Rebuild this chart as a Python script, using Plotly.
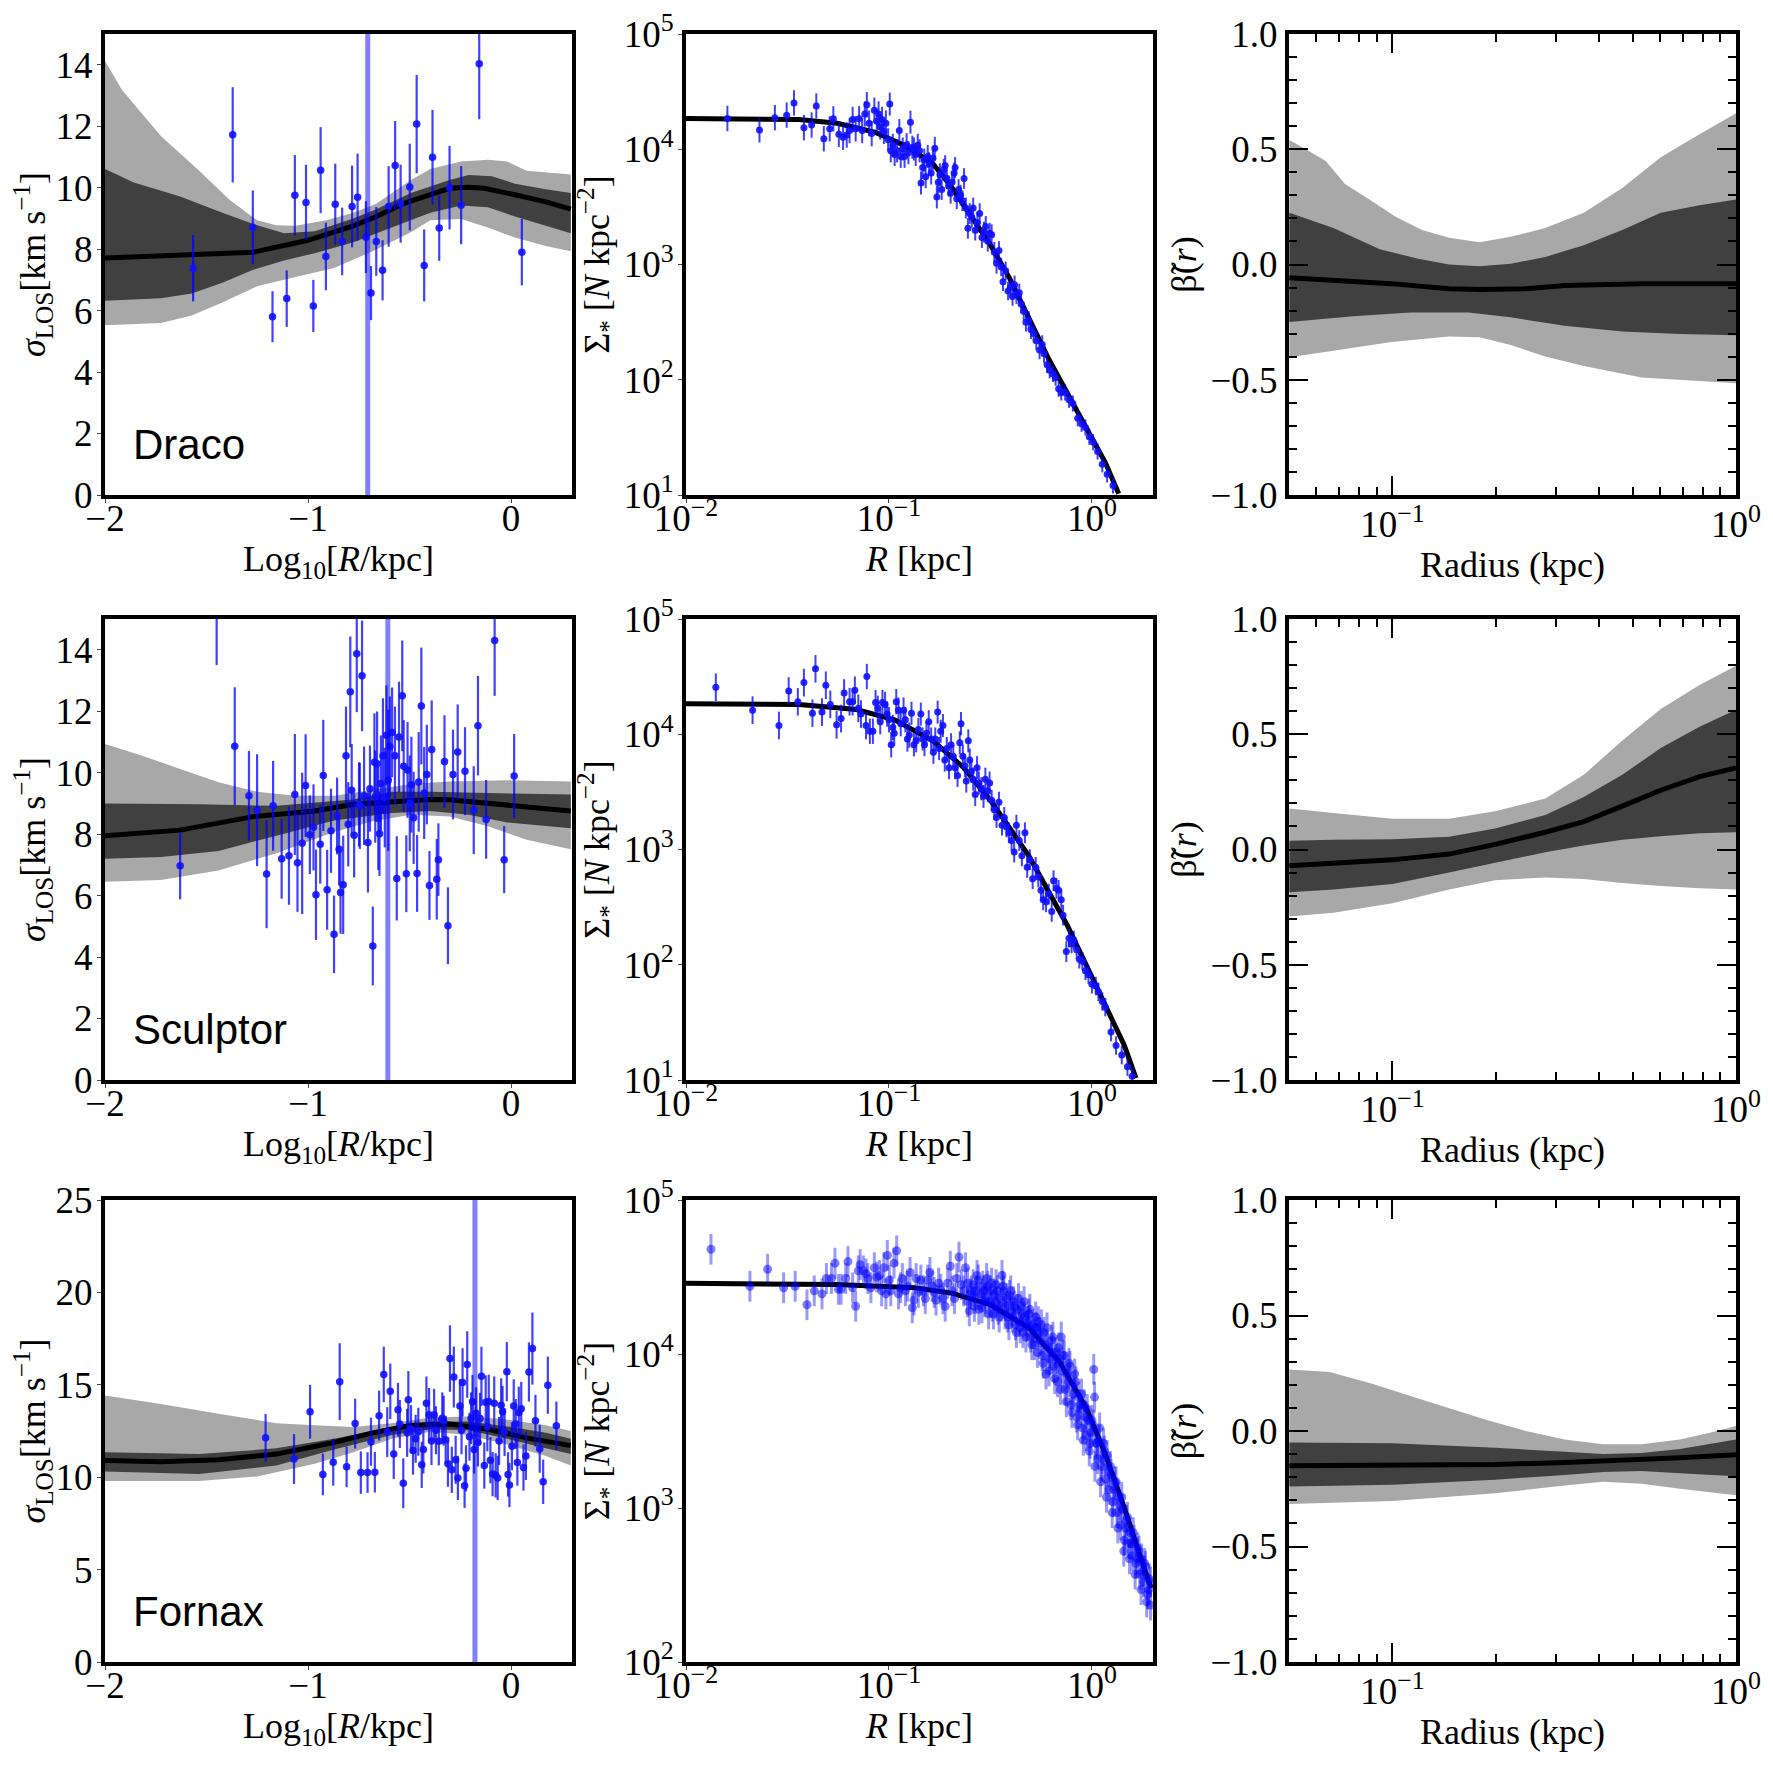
import numpy as np
import plotly.graph_objects as go

W, H = 1773, 1768
SERIF = "Liberation Serif"
SANS = "Liberation Sans"

galaxies = ["Draco", "Sculptor", "Fornax"]

# -------------------------
# Column 1: sigma_LOS vs log10 R
# -------------------------
draco_lgR = [-1.566, -1.371, -1.272, -1.175, -1.105, -1.065, -1.010, -0.974, -0.938, -0.912,
             -0.866, -0.832, -0.783, -0.756, -0.715, -0.690, -0.664, -0.633, -0.603, -0.571,
             -0.544, -0.499, -0.465, -0.428, -0.387, -0.354, -0.303, -0.246, -0.157, 0.053]
draco_sig = [7.38, 11.72, 8.71, 5.80, 6.39, 9.75, 9.52, 6.15, 10.57, 7.76,
             9.46, 8.25, 9.39, 9.69, 8.39, 6.57, 8.25, 7.31, 9.39, 10.72,
             9.48, 10.02, 12.07, 7.47, 10.99, 8.69, 10.00, 9.43, 14.03, 7.90]
draco_sig_err = [1.08, 1.55, 1.20, 0.83, 0.92, 1.31, 1.22, 0.85, 1.40, 1.10,
                 1.32, 1.10, 1.33, 1.42, 1.17, 0.88, 1.12, 0.98, 1.31, 1.45,
                 1.27, 1.41, 1.60, 1.17, 1.54, 1.07, 1.36, 1.27, 1.80, 1.08]

sculptor_lgR = [-1.630, -1.450, -1.361, -1.291, -1.251, -1.204, -1.172, -1.130, -1.094, -1.065,
                -1.052, -1.029, -1.012, -0.991, -0.973, -0.961, -0.940, -0.925, -0.906, -0.887,
                -0.872, -0.857, -0.847, -0.840, -0.827, -0.813, -0.802, -0.792, -0.785, -0.773,
                -0.760, -0.749, -0.734, -0.724, -0.705, -0.695, -0.681, -0.673, -0.660, -0.654,
                -0.648, -0.641, -0.631, -0.622, -0.614, -0.605, -0.597, -0.586, -0.572, -0.563,
                -0.552, -0.536, -0.529, -0.516, -0.510, -0.499, -0.491, -0.480, -0.463, -0.455,
                -0.442, -0.428, -0.415, -0.402, -0.391, -0.366, -0.358, -0.328, -0.311, -0.286,
                -0.263, -0.227, -0.184, -0.163, -0.123, -0.081, -0.034, 0.015, -0.745, -0.669]
sculptor_sig = [6.97, 15.2, 10.86, 9.25, 8.78, 6.70, 8.92, 7.20, 7.30, 9.29,
                7.07, 7.70, 9.58, 7.98, 8.22, 6.03, 7.67, 9.91, 6.19, 8.11,
                4.74, 8.59, 7.51, 6.10, 6.35, 10.55, 8.32, 12.63, 9.43, 7.96,
                13.87, 8.97, 13.15, 9.25, 7.73, 9.48, 4.36, 10.34, 10.29, 8.51,
                8.01, 9.65, 10.55, 9.19, 11.22, 9.75, 10.85, 11.31, 10.55, 6.56,
                11.16, 12.50, 10.21, 6.71, 10.09, 9.00, 9.61, 8.53, 6.72, 9.70,
                12.17, 9.34, 9.94, 6.33, 10.75, 6.53, 7.17, 10.36, 5.02, 9.94,
                10.67, 10.05, 8.78, 11.53, 8.48, 14.30, 7.17, 9.89, 8.92, 9.22]
sculptor_sig_err = [1.09, 1.70, 1.92, 1.46, 1.82, 1.76, 1.46, 1.30, 1.60, 1.97,
                    1.60, 2.30, 1.67, 1.28, 1.40, 1.47, 1.28, 1.81, 1.30, 1.37,
                    1.26, 1.25, 1.18, 1.34, 1.60, 1.60, 1.37, 1.80, 1.50, 1.37,
                    1.90, 1.37, 1.80, 1.60, 1.63, 1.40, 1.28, 1.59, 1.70, 1.68,
                    1.37, 1.56, 1.87, 1.62, 1.62, 2.30, 1.63, 1.46, 1.60, 1.37,
                    1.80, 1.80, 1.50, 1.25, 1.56, 1.56, 1.56, 1.50, 1.25, 1.62,
                    1.90, 1.50, 1.62, 1.12, 1.60, 1.31, 1.18, 1.51, 1.25, 1.46,
                    1.55, 1.43, 1.43, 1.62, 1.28, 1.80, 1.09, 1.37, 1.40, 1.50]

fornax_lgR = [-1.209, -1.069, -0.990, -0.927, -0.876, -0.844, -0.810, -0.768, -0.740, -0.707,
              -0.690, -0.671, -0.650, -0.627, -0.610, -0.595, -0.578, -0.557, -0.548, -0.531,
              -0.512, -0.506, -0.493, -0.483, -0.470, -0.457, -0.440, -0.432, -0.417, -0.404,
              -0.392, -0.379, -0.370, -0.356, -0.339, -0.332, -0.322, -0.311, -0.301, -0.292,
              -0.282, -0.273, -0.262, -0.252, -0.244, -0.239, -0.229, -0.222, -0.216, -0.205,
              -0.197, -0.190, -0.182, -0.172, -0.163, -0.153, -0.146, -0.132, -0.125, -0.117,
              -0.110, -0.102, -0.091, -0.083, -0.076, -0.066, -0.059, -0.049, -0.042, -0.032,
              -0.021, -0.015, -0.008, 0.004, 0.013, 0.023, 0.031, 0.038, 0.050, 0.061,
              0.073, 0.088, 0.105, 0.120, 0.141, 0.158, 0.181, 0.223]
fornax_sig = [12.13, 10.98, 13.54, 10.15, 10.81, 15.17, 10.56, 12.90, 10.25, 10.25,
              11.92, 10.27, 13.33, 15.56, 12.44, 14.65, 11.25, 13.65, 12.88, 9.67,
              12.40, 14.19, 12.60, 11.44, 12.08, 12.46, 10.67, 11.50, 14.00, 13.38,
              11.96, 13.38, 12.54, 11.94, 13.19, 13.06, 12.02, 10.73, 16.42, 10.40,
              15.42, 10.94, 9.96, 13.85, 12.54, 15.13, 9.54, 10.48, 16.10, 12.19,
              13.19, 14.08, 11.50, 13.46, 11.88, 13.17, 15.46, 10.63, 14.06, 12.75,
              14.10, 10.92, 10.17, 14.00, 10.10, 9.96, 11.96, 13.90, 13.54, 12.44,
              15.71, 10.15, 9.58, 11.67, 13.85, 12.88, 10.79, 13.50, 13.71, 10.52,
              11.15, 15.69, 16.96, 13.06, 11.54, 9.75, 14.98, 12.79]
fornax_sig_err = [1.29, 1.35, 1.46, 1.13, 1.27, 2.08, 1.10, 1.35, 1.15, 1.10,
                  1.30, 1.10, 1.35, 1.50, 1.35, 1.50, 1.35, 1.45, 1.30, 1.35,
                  1.30, 1.55, 1.30, 1.30, 1.30, 1.30, 1.25, 1.30, 1.45, 1.45,
                  1.30, 1.40, 1.30, 1.30, 1.40, 1.35, 1.30, 1.25, 1.80, 1.25,
                  1.65, 1.30, 1.20, 1.45, 1.30, 1.85, 1.20, 1.25, 1.80, 1.30,
                  1.40, 1.45, 1.30, 1.40, 1.30, 1.40, 1.60, 1.25, 1.45, 1.35,
                  1.45, 1.25, 1.20, 1.45, 1.20, 1.20, 1.30, 1.45, 1.40, 1.30,
                  1.60, 1.20, 1.20, 1.30, 1.45, 1.35, 1.25, 1.40, 1.45, 1.25,
                  1.30, 1.60, 1.95, 1.40, 1.30, 1.20, 1.55, 1.30]

# model bands for sigma_LOS (median, 68%, 95%)
draco_med_x = [-2.0, -1.270, -1.005, -0.777, -0.664, -0.531, -0.398, -0.303, -0.209, -0.133, 0.019, 0.171, 0.294]
draco_med_y = [7.71, 7.90, 8.28, 8.76, 9.06, 9.48, 9.77, 9.98, 10.01, 9.98, 9.77, 9.54, 9.30]
draco_d_up_x = [-2.0, -1.858, -1.630, -1.422, -1.270, -1.118, -0.967, -0.777, -0.664, -0.493, -0.303, -0.209, -0.095, 0.019, 0.171, 0.294]
draco_d_up_y = [10.61, 10.17, 9.71, 9.18, 8.82, 8.52, 8.58, 9.00, 9.30, 9.83, 10.25, 10.41, 10.37, 10.13, 9.95, 9.83]
draco_d_lo_x = [-2.0, -1.725, -1.573, -1.422, -1.270, -1.118, -0.967, -0.777, -0.588, -0.398, -0.246, -0.114, 0.019, 0.171, 0.294]
draco_d_lo_y = [6.32, 6.40, 6.56, 6.91, 7.33, 7.63, 7.87, 8.22, 8.70, 9.18, 9.42, 9.36, 9.06, 8.76, 8.52]
draco_l_up_x = [-2.0, -1.915, -1.725, -1.536, -1.384, -1.251, -1.156, -1.062, -0.910, -0.777, -0.664, -0.493, -0.398, -0.246, -0.114, -0.019, 0.076, 0.294]
draco_l_up_y = [14.12, 13.17, 11.68, 10.55, 9.59, 8.94, 8.78, 8.76, 8.94, 9.18, 9.48, 10.25, 10.61, 10.85, 10.91, 10.85, 10.55, 10.43]
draco_l_lo_x = [-2.0, -1.725, -1.573, -1.422, -1.251, -1.062, -0.872, -0.682, -0.493, -0.398, -0.246, -0.114, 0.019, 0.171, 0.294]
draco_l_lo_y = [5.52, 5.60, 5.84, 6.26, 6.79, 7.09, 7.39, 7.93, 8.55, 8.94, 8.98, 8.70, 8.38, 8.10, 7.93]

sculptor_med_x = [-2.0, -1.630, -1.270, -0.967, -0.777, -0.588, -0.398, -0.303, -0.114, 0.076, 0.294]
sculptor_med_y = [7.95, 8.13, 8.57, 8.75, 8.97, 9.07, 9.13, 9.12, 9.00, 8.85, 8.75]
sculptor_d_up_x = [-2.0, -1.536, -1.156, -0.777, -0.588, -0.398, -0.114, 0.076, 0.294]
sculptor_d_up_y = [9.00, 8.97, 8.92, 9.13, 9.38, 9.38, 9.34, 9.31, 9.29]
sculptor_d_lo_x = [-2.0, -1.725, -1.441, -1.156, -0.872, -0.588, -0.398, -0.209, -0.019, 0.294]
sculptor_d_lo_y = [7.20, 7.26, 7.45, 7.95, 8.44, 8.69, 8.75, 8.63, 8.38, 8.19]
sculptor_l_up_x = [-2.0, -1.820, -1.630, -1.441, -1.251, -1.062, -0.872, -0.682, -0.493, -0.303, -0.019, 0.294]
sculptor_l_up_y = [10.93, 10.56, 10.12, 9.69, 9.38, 9.25, 9.25, 9.44, 9.63, 9.71, 9.75, 9.71]
sculptor_l_lo_x = [-2.0, -1.725, -1.441, -1.156, -0.872, -0.682, -0.493, -0.303, -0.114, 0.076, 0.294]
sculptor_l_lo_y = [6.45, 6.51, 6.82, 7.38, 8.07, 8.42, 8.63, 8.57, 8.26, 7.82, 7.51]

fornax_med_x = [-2.0, -1.725, -1.441, -1.156, -0.872, -0.682, -0.493, -0.303, -0.114, 0.076, 0.294]
fornax_med_y = [10.90, 10.83, 10.94, 11.25, 11.88, 12.40, 12.81, 12.88, 12.60, 12.13, 11.71]
fornax_d_x = [-2.0, -1.536, -1.156, -0.872, -0.588, -0.398, -0.209, -0.019, 0.171, 0.294]
fornax_d_up_y = [11.35, 11.25, 11.56, 12.08, 12.71, 13.02, 13.02, 12.75, 12.40, 12.08]
fornax_d_lo_y = [10.31, 10.17, 10.63, 11.50, 12.29, 12.60, 12.54, 12.08, 11.56, 11.25]
fornax_l_up_x = [-2.0, -1.725, -1.441, -1.156, -0.967, -0.777, -0.588, -0.398, -0.209, -0.019, 0.171, 0.294]
fornax_l_up_y = [14.42, 13.96, 13.44, 12.92, 12.81, 12.71, 12.92, 13.23, 13.29, 13.12, 12.81, 12.50]
fornax_l_lo_x = [-2.0, -1.536, -1.251, -0.967, -0.777, -0.588, -0.398, -0.209, -0.019, 0.171, 0.294]
fornax_l_lo_y = [9.79, 9.79, 10.04, 10.73, 11.35, 12.08, 12.46, 12.29, 11.77, 11.15, 10.63]

# -------------------------
# Column 2: surface density (log10 R [kpc], log10 Sigma, error in dex)
# -------------------------
draco_sb_lgR = [-1.796, -1.638, -1.562, -1.504, -1.468, -1.419, -1.381, -1.358, -1.321, -1.292,
                -1.274, -1.247, -1.226, -1.208, -1.194, -1.179, -1.164, -1.147, -1.132, -1.119,
                -1.109, -1.098, -1.085, -1.072, -1.060, -1.051, -1.043, -1.034, -1.025, -1.015,
                -1.004, -0.996, -0.991, -0.981, -0.972, -0.960, -0.949, -0.942, -0.932, -0.923,
                -0.913, -0.904, -0.894, -0.885, -0.877, -0.868, -0.858, -0.849, -0.842, -0.834,
                -0.826, -0.819, -0.809, -0.802, -0.792, -0.783, -0.774, -0.764, -0.757, -0.749,
                -0.740, -0.730, -0.723, -0.715, -0.706, -0.696, -0.689, -0.679, -0.674, -0.666,
                -0.657, -0.647, -0.638, -0.630, -0.621, -0.611, -0.602, -0.592, -0.585, -0.575,
                -0.564, -0.553, -0.542, -0.532, -0.523, -0.513, -0.504, -0.494, -0.481, -0.470,
                -0.458, -0.447, -0.438, -0.425, -0.413, -0.402, -0.391, -0.381, -0.372, -0.358,
                -0.349, -0.336, -0.325, -0.311, -0.300, -0.287, -0.274, -0.258, -0.245, -0.236,
                -0.221, -0.208, -0.192, -0.179, -0.164, -0.151, -0.132, -0.113, -0.094, -0.070,
                -0.051, -0.032, -0.013, 0.006, 0.028, 0.051, 0.075, 0.104]
draco_sb_lgS = [4.267, 4.168, 4.274, 4.296, 4.402, 4.187, 4.210, 4.376, 4.091, 4.178,
                4.264, 4.130, 4.104, 4.123, 4.162, 4.258, 4.178, 4.264, 4.162, 4.306,
                4.386, 4.226, 4.136, 4.338, 4.242, 4.306, 4.194, 4.258, 4.155, 4.226,
                4.082, 4.392, 3.986, 4.034, 3.954, 3.986, 4.162, 3.938, 4.002, 3.938,
                4.040, 3.970, 4.235, 4.018, 4.002, 3.954, 4.034, 3.986, 3.707, 3.842,
                3.906, 3.762, 3.938, 3.874, 3.794, 3.922, 4.008, 3.586, 3.714, 3.778,
                3.650, 3.826, 3.858, 3.746, 3.682, 3.618, 3.714, 3.794, 3.842, 3.570,
                3.650, 3.602, 3.554, 3.746, 3.490, 3.314, 3.442, 3.410, 3.490, 3.298,
                3.362, 3.442, 3.234, 3.282, 3.330, 3.202, 3.272, 3.259, 3.106, 3.010,
                3.122, 2.978, 2.850, 2.946, 2.770, 2.802, 2.722, 2.824, 2.738, 2.754,
                2.658, 2.594, 2.498, 2.514, 2.434, 2.402, 2.338, 2.258, 2.306, 2.226,
                2.130, 2.082, 2.050, 2.018, 1.922, 1.890, 1.890, 1.826, 1.794, 1.666,
                1.618, 1.586, 1.506, 1.458, 1.378, 1.266, 1.179, 1.083]
draco_sb_err = [0.11, 0.11, 0.11, 0.11, 0.11, 0.11, 0.11, 0.11, 0.11, 0.11,
                0.11, 0.11, 0.11, 0.11, 0.11, 0.11, 0.11, 0.11, 0.11, 0.11,
                0.11, 0.11, 0.11, 0.11, 0.11, 0.11, 0.11, 0.11, 0.11, 0.11,
                0.10, 0.10, 0.10, 0.10, 0.10, 0.10, 0.10, 0.10, 0.10, 0.10,
                0.10, 0.10, 0.10, 0.10, 0.10, 0.10, 0.10, 0.10, 0.10, 0.10,
                0.10, 0.10, 0.10, 0.10, 0.10, 0.10, 0.10, 0.10, 0.10, 0.10,
                0.09, 0.09, 0.09, 0.09, 0.09, 0.09, 0.09, 0.09, 0.09, 0.09,
                0.09, 0.09, 0.09, 0.09, 0.09, 0.09, 0.09, 0.09, 0.09, 0.09,
                0.09, 0.09, 0.09, 0.09, 0.09, 0.09, 0.09, 0.09, 0.09, 0.09,
                0.08, 0.08, 0.08, 0.08, 0.08, 0.08, 0.08, 0.08, 0.08, 0.08,
                0.08, 0.08, 0.08, 0.08, 0.08, 0.08, 0.08, 0.08, 0.08, 0.08,
                0.07, 0.07, 0.07, 0.07, 0.07, 0.07, 0.07, 0.07, 0.07, 0.07,
                0.07, 0.07, 0.07, 0.07, 0.07, 0.07, 0.07, 0.07]

sculptor_sb_lgR = [-1.853, -1.672, -1.542, -1.494, -1.449, -1.419, -1.377, -1.362, -1.330, -1.311,
                   -1.289, -1.258, -1.236, -1.221, -1.194, -1.179, -1.168, -1.151, -1.138, -1.113,
                   -1.109, -1.094, -1.079, -1.066, -1.055, -1.043, -1.032, -1.019, -1.009, -1.000,
                   -0.989, -0.981, -0.974, -0.964, -0.953, -0.942, -0.928, -0.919, -0.909, -0.900,
                   -0.889, -0.877, -0.866, -0.855, -0.843, -0.834, -0.825, -0.815, -0.804, -0.792,
                   -0.781, -0.772, -0.760, -0.753, -0.745, -0.734, -0.725, -0.715, -0.704, -0.694,
                   -0.683, -0.674, -0.662, -0.651, -0.645, -0.636, -0.626, -0.619, -0.609, -0.602,
                   -0.594, -0.585, -0.575, -0.566, -0.557, -0.545, -0.534, -0.525, -0.513, -0.504,
                   -0.494, -0.481, -0.470, -0.458, -0.443, -0.432, -0.421, -0.409, -0.396, -0.383,
                   -0.372, -0.358, -0.345, -0.330, -0.319, -0.306, -0.292, -0.277, -0.264, -0.251,
                   -0.240, -0.226, -0.213, -0.198, -0.189, -0.175, -0.164, -0.151, -0.142, -0.126,
                   -0.113, -0.100, -0.089, -0.075, -0.062, -0.047, -0.032, -0.017, 0.000, 0.019,
                   0.032, 0.051, 0.066, 0.094, 0.119, 0.147, 0.175, 0.198]
sculptor_sb_lgS = [4.408, 4.209, 4.076, 4.375, 4.282, 4.448, 4.182, 4.568, 4.192, 4.425,
                   4.259, 4.082, 4.136, 4.358, 4.282, 4.282, 4.382, 4.225, 4.175, 4.076,
                   4.501, 4.026, 4.026, 4.275, 4.225, 4.109, 4.275, 4.259, 4.175, 4.126,
                   3.909, 4.059, 4.009, 4.282, 4.209, 4.092, 4.209, 4.126, 3.959, 3.993,
                   4.182, 3.909, 3.943, 4.042, 4.175, 3.959, 3.909, 4.009, 4.109, 3.959,
                   3.843, 3.959, 4.192, 3.876, 4.026, 4.076, 3.776, 3.876, 3.710, 3.909,
                   3.810, 3.710, 3.643, 3.926, 4.092, 3.810, 3.727, 3.594, 3.943, 3.776,
                   3.677, 3.610, 3.477, 3.710, 3.577, 3.527, 3.461, 3.610, 3.510, 3.577,
                   3.427, 3.344, 3.278, 3.411, 3.211, 3.278, 3.195, 3.145, 3.078, 2.978,
                   3.211, 3.078, 2.945, 3.145, 2.845, 2.912, 2.746, 2.845, 2.762, 2.646,
                   2.563, 2.546, 2.613, 2.463, 2.729, 2.663, 2.646, 2.563, 2.430, 2.114,
                   2.230, 2.180, 2.214, 2.131, 2.047, 2.031, 1.948, 1.914, 1.831, 1.815,
                   1.765, 1.682, 1.632, 1.416, 1.299, 1.216, 1.116, 1.033]
sculptor_sb_err = [0.12, 0.12, 0.12, 0.12, 0.12, 0.12, 0.12, 0.12, 0.12, 0.12,
                   0.12, 0.12, 0.12, 0.12, 0.12, 0.12, 0.12, 0.12, 0.12, 0.12,
                   0.11, 0.11, 0.11, 0.11, 0.11, 0.11, 0.11, 0.11, 0.11, 0.11,
                   0.11, 0.11, 0.11, 0.11, 0.11, 0.11, 0.11, 0.11, 0.11, 0.11,
                   0.10, 0.10, 0.10, 0.10, 0.10, 0.10, 0.10, 0.10, 0.10, 0.10,
                   0.10, 0.10, 0.10, 0.10, 0.10, 0.10, 0.10, 0.10, 0.10, 0.10,
                   0.10, 0.10, 0.10, 0.10, 0.10, 0.10, 0.10, 0.10, 0.10, 0.10,
                   0.10, 0.10, 0.10, 0.10, 0.10, 0.10, 0.10, 0.10, 0.10, 0.10,
                   0.09, 0.09, 0.09, 0.09, 0.09, 0.09, 0.09, 0.09, 0.09, 0.09,
                   0.09, 0.09, 0.09, 0.09, 0.09, 0.09, 0.09, 0.09, 0.09, 0.09,
                   0.09, 0.09, 0.09, 0.09, 0.09, 0.09, 0.09, 0.09, 0.09, 0.09,
                   0.08, 0.08, 0.08, 0.08, 0.08, 0.08, 0.08, 0.08, 0.08, 0.08,
                   0.08, 0.08, 0.08, 0.08, 0.08, 0.08, 0.08, 0.08]

fornax_sb_lgR = [-1.877, -1.685, -1.598, -1.519, -1.462, -1.404, -1.368, -1.330, -1.308, -1.283,
                 -1.266, -1.249, -1.236, -1.213, -1.202, -1.179, -1.164, -1.151, -1.142, -1.126,
                 -1.113, -1.104, -1.089, -1.072, -1.060, -1.047, -1.036, -1.025, -1.015, -1.008,
                 -0.998, -0.991, -0.975, -0.962, -0.953, -0.943, -0.934, -0.919, -0.909, -0.896,
                 -0.885, -0.877, -0.866, -0.855, -0.843, -0.830, -0.821, -0.809, -0.798, -0.787,
                 -0.777, -0.768, -0.755, -0.745, -0.734, -0.723, -0.711, -0.698, -0.689, -0.677,
                 -0.666, -0.655, -0.643, -0.632, -0.623, -0.613, -0.604, -0.594, -0.585, -0.575,
                 -0.566, -0.557, -0.547, -0.538, -0.528, -0.519, -0.509, -0.500, -0.491, -0.481,
                 -0.472, -0.462, -0.453, -0.443, -0.434, -0.425, -0.415, -0.406, -0.396, -0.387,
                 -0.377, -0.368, -0.358, -0.349, -0.340, -0.330, -0.321, -0.311, -0.302, -0.292,
                 -0.283, -0.274, -0.264, -0.255, -0.245, -0.236, -0.226, -0.217, -0.208, -0.198,
                 -0.189, -0.179, -0.170, -0.160, -0.151, -0.142, -0.132, -0.123, -0.113, -0.104,
                 -0.094, -0.085, -0.075, -0.066, -0.057, -0.047, -0.038, -0.028, -0.019, -0.009,
                 0.000, 0.009, 0.013, 0.019, 0.028, 0.038, 0.047, 0.057, 0.066, 0.075,
                 0.085, 0.094, 0.104, 0.113, 0.123, 0.132, 0.142, 0.151, 0.160, 0.170,
                 0.179, 0.189, 0.198, 0.208, 0.217, 0.226, 0.236, 0.245, 0.255, 0.264,
                 0.274, 0.283, 0.289,
                 -0.613, -0.598, -0.579, -0.570, -0.560, -0.542, -0.532, -0.523, -0.513, -0.504,
                 -0.494, -0.485, -0.475, -0.466, -0.457, -0.447, -0.438, -0.428, -0.419, -0.409,
                 -0.400, -0.391, -0.381, -0.372, -0.362, -0.353, -0.343, -0.334, -0.325, -0.315,
                 -0.306, -0.296, -0.287, -0.277, -0.268, -0.258, -0.249, -0.240, -0.230, -0.221,
                 -0.211, -0.202, -0.192, -0.183, -0.174, -0.164, -0.155, -0.145, -0.136, -0.126,
                 -0.117, -0.108, -0.098, -0.089, -0.079, -0.070, -0.060, -0.051, -0.042, -0.032,
                 -0.023, -0.013, -0.004, 0.006, 0.015, 0.025, 0.034, 0.043, 0.053, 0.062,
                 0.072, 0.081, 0.091, 0.100, 0.109, 0.119, 0.128, 0.138, 0.147, 0.157,
                 0.166, 0.175, 0.185, 0.194, 0.204, 0.213, 0.223, 0.232, 0.242, 0.251,
                 0.260, 0.270, 0.279, 0.289]
fornax_sb_lgS = [4.68, 4.44, 4.55, 4.43, 4.44, 4.32, 4.41, 4.39, 4.49, 4.49,
                 4.59, 4.42, 4.42, 4.49, 4.60, 4.43, 4.31, 4.54, 4.58, 4.54,
                 4.52, 4.49, 4.43, 4.56, 4.50, 4.51, 4.41, 4.56, 4.39, 4.64,
                 4.48, 4.41, 4.59, 4.67, 4.39, 4.43, 4.49, 4.41, 4.44, 4.53,
                 4.30, 4.35, 4.49, 4.40, 4.48, 4.41, 4.36, 4.48, 4.53, 4.44,
                 4.40, 4.35, 4.46, 4.42, 4.36, 4.31, 4.46, 4.57, 4.41, 4.36,
                 4.49, 4.63, 4.45, 4.41, 4.56, 4.34, 4.28, 4.41, 4.45, 4.36,
                 4.51, 4.29, 4.39, 4.44, 4.34, 4.49, 4.26, 4.41, 4.31, 4.39,
                 4.45, 4.29, 4.36, 4.51, 4.41, 4.31, 4.24, 4.38, 4.28, 4.34,
                 4.19, 4.29, 4.21, 4.31, 4.14, 4.24, 4.18, 4.26, 4.11, 4.19,
                 4.06, 4.17, 4.21, 4.09, 3.99, 4.14, 3.87, 4.04, 3.97, 4.09,
                 3.92, 4.01, 3.82, 3.94, 4.11, 3.99, 3.77, 3.87, 3.94, 3.67,
                 3.79, 3.87, 3.59, 3.72, 3.64, 3.52, 3.67, 3.47, 3.57, 3.42,
                 3.57, 3.90, 3.72, 3.42, 3.32, 3.52, 3.27, 3.42, 3.19, 3.34,
                 3.12, 3.22, 3.04, 3.17, 2.97, 3.07, 2.89, 2.99, 2.79, 2.92,
                 2.77, 2.84, 2.69, 2.79, 2.64, 2.74, 2.57, 2.67, 2.52, 2.62,
                 2.44, 2.54, 2.37,
                 4.46, 4.39, 4.31, 4.41, 4.48, 4.30, 4.41, 4.36, 4.44, 4.34,
                 4.46, 4.26, 4.34, 4.41, 4.24, 4.31, 4.44, 4.26, 4.36, 4.19,
                 4.41, 4.24, 4.31, 4.14, 4.36, 4.17, 4.26, 4.34, 4.11, 4.21,
                 4.29, 4.06, 4.17, 4.24, 4.01, 4.14, 4.19, 3.94, 4.06, 4.17,
                 3.89, 4.01, 4.11, 3.84, 3.97, 4.04, 3.77, 3.89, 3.99, 3.69,
                 3.82, 3.92, 3.62, 3.74, 3.82, 3.54, 3.67, 3.74, 3.44, 3.59,
                 3.64, 3.37, 3.49, 3.54, 3.27, 3.42, 3.44, 3.17, 3.32, 3.37,
                 3.07, 3.24, 3.27, 2.97, 3.12, 3.17, 2.87, 3.02, 3.07, 2.72,
                 2.87, 2.94, 2.67, 2.77, 2.84, 2.57, 2.67, 2.72, 2.47, 2.59,
                 2.64, 2.39, 2.47, 2.52]
fornax_sb_err = 0.10  # typical bar half-length (dex); cloud too dense to read per point

# black model curves in column 2 (log10 R, log10 Sigma)
draco_fit_lgR = [-2.0, -1.443, -1.255, -1.066, -0.915, -0.783, -0.689, -0.594, -0.500, -0.406, -0.311, -0.217, -0.123, -0.028, 0.066, 0.132]
draco_fit_lgS = [4.267, 4.258, 4.226, 4.146, 4.027, 3.874, 3.666, 3.426, 3.170, 2.882, 2.546, 2.194, 1.890, 1.590, 1.282, 1.010]
sculptor_fit_lgR = [-2.0, -1.443, -1.160, -0.972, -0.783, -0.632, -0.500, -0.406, -0.311, -0.217, -0.123, -0.028, 0.066, 0.160, 0.217]
sculptor_fit_lgS = [4.265, 4.258, 4.215, 4.125, 3.943, 3.710, 3.427, 3.195, 2.945, 2.646, 2.347, 1.998, 1.648, 1.299, 1.017]
fornax_fit_lgR = [-2.0, -1.255, -0.877, -0.689, -0.500, -0.311, -0.160, -0.028, 0.066, 0.160, 0.255, 0.292]
fornax_fit_lgS = [4.459, 4.451, 4.431, 4.395, 4.320, 4.170, 3.950, 3.650, 3.350, 3.000, 2.620, 2.480]

# -------------------------
# Column 3: anisotropy beta(r)  (log10 r [kpc])
# -------------------------
draco_b_med_x = [-1.300, -1.172, -1.003, -0.835, -0.746, -0.611, -0.499, -0.275, 0.0]
draco_b_med_y = [-0.058, -0.070, -0.083, -0.105, -0.108, -0.105, -0.091, -0.083, -0.083]
draco_b_d_up_x = [-1.300, -1.172, -1.037, -0.925, -0.835, -0.746, -0.656, -0.555, -0.443, -0.331, -0.219, -0.106, 0.0]
draco_b_d_up_y = [0.224, 0.158, 0.066, 0.025, 0.0, -0.008, 0.003, 0.033, 0.083, 0.150, 0.224, 0.257, 0.282]
draco_b_d_lo_x = [-1.300, -1.115, -0.947, -0.779, -0.656, -0.499, -0.331, -0.163, 0.0]
draco_b_d_lo_y = [-0.249, -0.224, -0.208, -0.208, -0.229, -0.266, -0.291, -0.302, -0.307]
draco_b_l_up_x = [-1.300, -1.250, -1.194, -1.138, -1.059, -0.992, -0.914, -0.835, -0.746, -0.656, -0.555, -0.443, -0.331, -0.219, -0.106, 0.0]
draco_b_l_up_y = [0.540, 0.498, 0.449, 0.349, 0.274, 0.208, 0.150, 0.116, 0.096, 0.120, 0.158, 0.224, 0.332, 0.465, 0.565, 0.656]
draco_b_l_lo_x = [-1.300, -1.172, -1.003, -0.835, -0.746, -0.656, -0.555, -0.443, -0.275, 0.0]
draco_b_l_lo_y = [-0.402, -0.374, -0.336, -0.312, -0.316, -0.349, -0.399, -0.440, -0.490, -0.515]

sculptor_b_x = [-1.300, -1.172, -1.0, -0.835, -0.701, -0.555, -0.443, -0.331, -0.219, -0.106, 0.0]
sculptor_b_med_y = [-0.071, -0.061, -0.045, -0.020, 0.022, 0.075, 0.121, 0.188, 0.257, 0.316, 0.354]
sculptor_b_d_up_y = [0.038, 0.042, 0.045, 0.055, 0.091, 0.150, 0.228, 0.324, 0.440, 0.532, 0.606]
sculptor_b_d_lo_y = [-0.186, -0.174, -0.150, -0.100, -0.058, -0.012, 0.017, 0.042, 0.058, 0.070, 0.075]
sculptor_b_l_up_y = [0.178, 0.158, 0.133, 0.133, 0.166, 0.221, 0.324, 0.473, 0.610, 0.714, 0.797]
sculptor_b_l_lo_y = [-0.291, -0.274, -0.233, -0.174, -0.133, -0.121, -0.128, -0.145, -0.158, -0.168, -0.174]

fornax_b_med_x = [-1.300, -1.0, -0.701, -0.499, -0.331, -0.163, 0.0]
fornax_b_med_y = [-0.150, -0.150, -0.145, -0.136, -0.128, -0.116, -0.103]
fornax_b_d_x = [-1.300, -1.0, -0.701, -0.499, -0.387, -0.275, -0.163, 0.0]
fornax_b_d_up_y = [-0.050, -0.053, -0.073, -0.090, -0.100, -0.095, -0.078, -0.037]
fornax_b_d_lo_y = [-0.240, -0.233, -0.211, -0.190, -0.178, -0.173, -0.183, -0.196]
fornax_b_l_up_x = [-1.300, -1.183, -1.059, -0.902, -0.723, -0.611, -0.499, -0.387, -0.275, -0.163, -0.073, 0.0]
fornax_b_l_up_y = [0.266, 0.255, 0.205, 0.130, 0.047, 0.0, -0.037, -0.057, -0.057, -0.037, -0.007, 0.022]
fornax_b_l_lo_y = [-0.316, -0.303, -0.270, -0.236, -0.220, -0.228, -0.250, -0.278]

# half-light radii (vertical lines): projected (cols 1-2) and 3D (col 3), log10 kpc
rhalf_proj_lg = [-0.706, -0.607, -0.178]
rhalf_3d_lg = [-0.650, -0.547, -0.145]

sig_ymax = [15, 15, 25]
sig_tickvals = [[0, 2, 4, 6, 8, 10, 12, 14], [0, 2, 4, 6, 8, 10, 12, 14], [0, 5, 10, 15, 20, 25]]
sb_ymin_exp = [1, 1, 2]

# -------------------------
# layout helpers (pixel boxes of the nine panels)
# -------------------------
col_px = [(97, 564), (678, 1145), (1281, 1728)]
row_px = [(26, 487), (611, 1072), (1192, 1654)]
ML, MR = col_px[0][0], W - col_px[2][1]
MT, MB = row_px[0][0], H - row_px[2][1]
PW, PH = W - ML - MR, H - MT - MB

LIGHT = "#a8a8a8"
DARK = "#404040"
BLUE = "rgba(15,15,255,0.9)"
BLUE_BAR = "rgba(0,0,255,0.75)"
VLINE = "rgba(0,0,255,0.5)"

fig = go.Figure()


def names(r, c):
    i = r * 3 + c + 1
    s = "" if i == 1 else str(i)
    return "x" + s, "y" + s, "xaxis" + s, "yaxis" + s


def xdom(c):
    return [(col_px[c][0] - ML) / PW, (col_px[c][1] - ML) / PW]


def ydom(r):
    return [(H - MB - row_px[r][1]) / PH, (H - MB - row_px[r][0]) / PH]


def band(xu, yu, xl, yl, color, xa, ya, logx=False):
    xs = list(xu) + list(xl)[::-1]
    ys = list(yu) + list(yl)[::-1]
    if logx:
        xs = [10 ** v for v in xs]
    fig.add_trace(go.Scatter(x=xs, y=ys, fill="toself", fillcolor=color, mode="none",
                             xaxis=xa, yaxis=ya, hoverinfo="skip", showlegend=False))


def line(x, y, xa, ya, logx=False, width=5):
    xs = [10 ** v for v in x] if logx else x
    fig.add_trace(go.Scatter(x=xs, y=y, mode="lines", line=dict(color="black", width=width),
                             xaxis=xa, yaxis=ya, showlegend=False))


tickfont = dict(family=SERIF, size=37, color="black")
titlefont = dict(family=SERIF, size=36, color="black")
frame = dict(showline=True, linecolor="black", linewidth=4, mirror=True, showgrid=False,
             zeroline=False, tickfont=tickfont, automargin=False, ticklabeloverflow="allow")
XLAB = dict(ticklabelstandoff=-16)
YLAB = dict(ticklabelstandoff=-3)

sig_data = [
    (draco_lgR, draco_sig, draco_sig_err,
     (draco_l_up_x, draco_l_up_y, draco_l_lo_x, draco_l_lo_y),
     (draco_d_up_x, draco_d_up_y, draco_d_lo_x, draco_d_lo_y),
     (draco_med_x, draco_med_y)),
    (sculptor_lgR, sculptor_sig, sculptor_sig_err,
     (sculptor_l_up_x, sculptor_l_up_y, sculptor_l_lo_x, sculptor_l_lo_y),
     (sculptor_d_up_x, sculptor_d_up_y, sculptor_d_lo_x, sculptor_d_lo_y),
     (sculptor_med_x, sculptor_med_y)),
    (fornax_lgR, fornax_sig, fornax_sig_err,
     (fornax_l_up_x, fornax_l_up_y, fornax_l_lo_x, fornax_l_lo_y),
     (fornax_d_x, fornax_d_up_y, fornax_d_x, fornax_d_lo_y),
     (fornax_med_x, fornax_med_y)),
]
sb_data = [
    (draco_sb_lgR, draco_sb_lgS, draco_sb_err, draco_fit_lgR, draco_fit_lgS),
    (sculptor_sb_lgR, sculptor_sb_lgS, sculptor_sb_err, sculptor_fit_lgR, sculptor_fit_lgS),
    (fornax_sb_lgR, fornax_sb_lgS, fornax_sb_err, fornax_fit_lgR, fornax_fit_lgS),
]
beta_data = [
    ((draco_b_l_up_x, draco_b_l_up_y, draco_b_l_lo_x, draco_b_l_lo_y),
     (draco_b_d_up_x, draco_b_d_up_y, draco_b_d_lo_x, draco_b_d_lo_y),
     (draco_b_med_x, draco_b_med_y)),
    ((sculptor_b_x, sculptor_b_l_up_y, sculptor_b_x, sculptor_b_l_lo_y),
     (sculptor_b_x, sculptor_b_d_up_y, sculptor_b_x, sculptor_b_d_lo_y),
     (sculptor_b_x, sculptor_b_med_y)),
    ((fornax_b_l_up_x, fornax_b_l_up_y, fornax_b_d_x, fornax_b_l_lo_y),
     (fornax_b_d_x, fornax_b_d_up_y, fornax_b_d_x, fornax_b_d_lo_y),
     (fornax_b_med_x, fornax_b_med_y)),
]

layout = {}
shapes = []
annotations = []

for r in range(3):
    # ---- column 1: velocity dispersion
    xa, ya, xk, yk = names(r, 0)
    lg, sg, er, light, dark, med = sig_data[r]
    band(*light, LIGHT, xa, ya)
    band(*dark, DARK, xa, ya)
    line(med[0], med[1], xa, ya)
    fig.add_trace(go.Scatter(x=lg, y=sg, mode="markers", xaxis=xa, yaxis=ya, showlegend=False,
                             marker=dict(color=BLUE, size=7.5),
                             error_y=dict(type="data", array=er, color=BLUE_BAR, thickness=2.2, width=0)))
    layout[xk] = dict(frame, **XLAB, domain=xdom(0), anchor=ya,
                      range=[-2, 0.3], tickvals=[-2, -1, 0], ticktext=["\u22122", "\u22121", "0"],
                      ticks="outside", ticklen=4, tickwidth=1,
                      title=dict(text="Log<sub>10</sub>[<i>R</i>/kpc]", font=titlefont, standoff=0))
    layout[yk] = dict(frame, **YLAB, domain=ydom(r), anchor=xa, range=[0, sig_ymax[r]],
                      tickvals=sig_tickvals[r], ticks="outside", ticklen=4, tickwidth=1,
                      title=dict(text="<i>\u03c3</i><sub>LOS</sub>[km s<sup>\u22121</sup>]",
                                 font=titlefont, standoff=4))
    shapes.append(dict(type="line", xref=xa, yref=ya + " domain", x0=rhalf_proj_lg[r],
                       x1=rhalf_proj_lg[r], y0=0, y1=1, line=dict(color=VLINE, width=5)))
    annotations.append(dict(text=galaxies[r], xref=xa + " domain", yref=ya + " domain",
                            x=0.055, y=0.055, xanchor="left", yanchor="bottom", showarrow=False,
                            font=dict(family=SANS, size=42, color="black")))

    # ---- column 2: surface density
    xa, ya, xk, yk = names(r, 1)
    lgR, lgS, de, flR, flS = sb_data[r]
    line(flR, [10 ** v for v in flS], xa, ya, logx=True)
    Rv = np.power(10.0, lgR)
    Sv = np.power(10.0, lgS)
    de = np.asarray(de) * np.ones_like(Sv)
    faint = r == 2
    fig.add_trace(go.Scatter(x=Rv, y=Sv, mode="markers", xaxis=xa, yaxis=ya, showlegend=False,
                             marker=dict(color="rgba(0,0,255,0.5)" if faint else BLUE,
                                         size=9 if faint else 7),
                             error_y=dict(type="data", symmetric=False,
                                          array=Sv * (10 ** de - 1), arrayminus=Sv * (1 - 10 ** -de),
                                          color="rgba(0,0,255,0.4)" if faint else BLUE_BAR,
                                          thickness=3 if faint else 2, width=0)))
    lo = sb_ymin_exp[r]
    layout[xk] = dict(frame, **XLAB, domain=xdom(1), anchor=ya, type="log",
                      range=[-2, 0.301], tickvals=[0.01, 0.1, 1],
                      ticktext=["10<sup>\u22122</sup>", "10<sup>\u22121</sup>", "10<sup>0</sup>"],
                      ticks="outside", ticklen=4, tickwidth=1,
                      title=dict(text="<i>R</i> [kpc]", font=titlefont, standoff=0))
    layout[yk] = dict(frame, **YLAB, domain=ydom(r), anchor=xa, type="log", range=[lo, 5],
                      tickvals=[10 ** e for e in range(lo, 6)],
                      ticktext=["10<sup>%d</sup>" % e for e in range(lo, 6)],
                      ticks="outside", ticklen=4, tickwidth=1,
                      title=dict(text="\u03a3<sub>*</sub> [<i>N</i> kpc<sup>\u22122</sup>]",
                                 font=titlefont, standoff=4))
    shapes.append(dict(type="line", xref=xa, yref=ya + " domain", x0=rhalf_proj_lg[r],
                       x1=rhalf_proj_lg[r], y0=0, y1=1, line=dict(color=VLINE, width=5)))

    # ---- column 3: anisotropy
    xa, ya, xk, yk = names(r, 2)
    light, dark, med = beta_data[r]
    band(*light, LIGHT, xa, ya, logx=True)
    band(*dark, DARK, xa, ya, logx=True)
    line(med[0], med[1], xa, ya, logx=True)
    layout[xk] = dict(frame, domain=xdom(2), anchor=ya, type="log",
                      range=[np.log10(0.05), 0], tickvals=[0.1, 1],
                      ticktext=["10<sup>\u22121</sup>", "10<sup>0</sup>"],
                      ticks="inside", ticklen=19, tickwidth=2.2, tickcolor="black", mirror="allticks",
                      minor=dict(tickmode="array",
                                 tickvals=[0.06, 0.07, 0.08, 0.09, 0.2, 0.3, 0.4, 0.5, 0.6, 0.7, 0.8, 0.9],
                                 ticks="inside", ticklen=8, tickwidth=1.5, tickcolor="black"),
                      ticklabelstandoff=-6,
                      title=dict(text="Radius (kpc)", font=titlefont, standoff=0))
    layout[yk] = dict(frame, domain=ydom(r), anchor=xa, range=[-1, 1],
                      tickvals=[-1, -0.5, 0, 0.5, 1],
                      ticktext=["\u22121.0", "\u22120.5", "0.0", "0.5", "1.0"],
                      ticks="inside", ticklen=19, tickwidth=2.2, tickcolor="black", mirror="allticks",
                      minor=dict(dtick=0.1, ticks="inside", ticklen=8, tickwidth=1.5, tickcolor="black"),
                      title=dict(text="\u03b2\u0303(<i>r</i>)", font=titlefont, standoff=4))
    shapes.append(dict(type="line", xref=xa, yref=ya + " domain", x0=rhalf_3d_lg[r],
                       x1=rhalf_3d_lg[r], y0=0, y1=1, line=dict(color=VLINE, width=5)))

fig.update_layout(**layout)
fig.update_layout(width=W, height=H, margin=dict(l=ML, r=MR, t=MT, b=MB, autoexpand=False),
                  paper_bgcolor="white", plot_bgcolor="white",
                  font=dict(family=SERIF, color="black"),
                  shapes=shapes, annotations=annotations, showlegend=False)

fig.write_html("out.html")
